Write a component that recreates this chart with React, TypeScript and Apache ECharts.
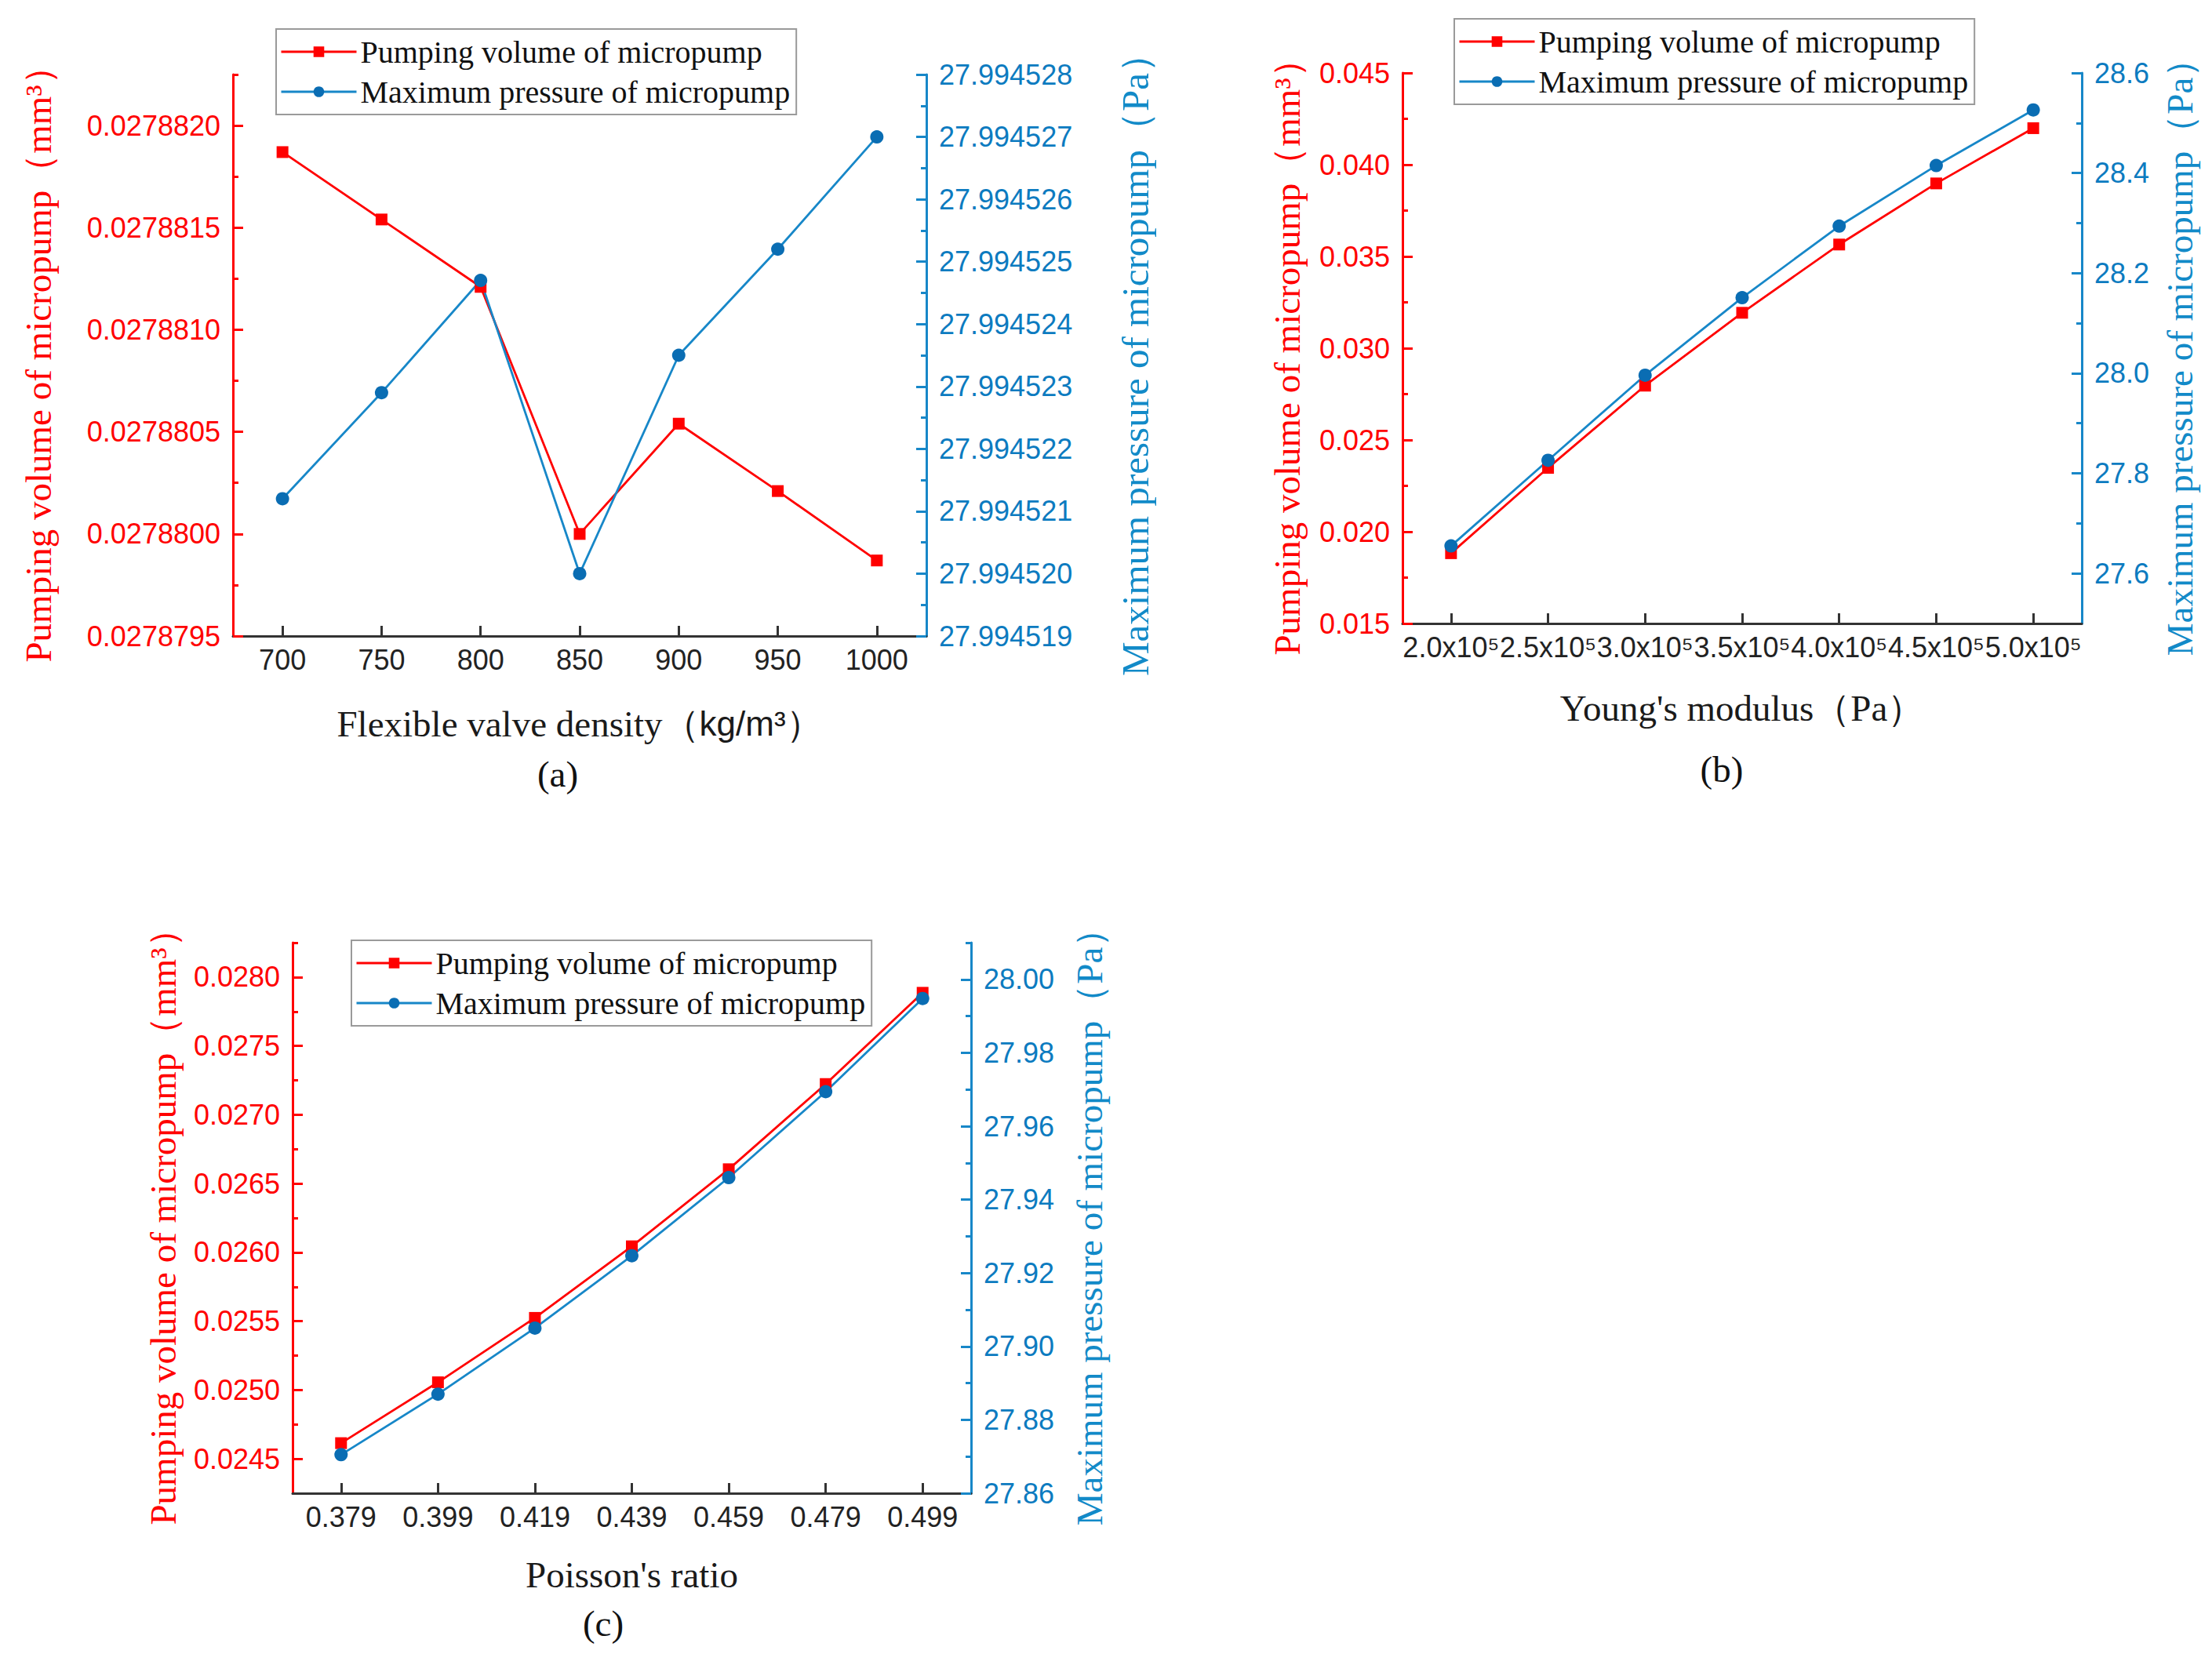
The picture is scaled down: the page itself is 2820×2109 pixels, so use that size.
import { useEffect, useRef } from "react";
import * as echarts from "echarts";

const SERIF = "'Liberation Serif', 'Times New Roman', serif";
const SANS = "'Liberation Sans', Arial, sans-serif";
const RED = "#FF0000";
const BLUE_LINE = "#1787C8";
const BLUE_MARK = "#0A6DB3";
const BLUE_TEXT = "#0C7BC0";

const NAME_VOL = "Pumping volume of micropump";
const NAME_PRES = "Maximum pressure of micropump";

// (a) flexible valve density
const densityCats = ["700", "750", "800", "850", "900", "950", "1000"];
const volumeA = [0.02788187, 0.02788154, 0.02788121, 0.0278800, 0.02788054, 0.02788021, 0.02787987];
const pressureA = [27.9945212, 27.9945229, 27.9945247, 27.99452, 27.9945235, 27.9945252, 27.994527];
const volTicksA = [0.0278795, 0.02788, 0.0278805, 0.027881, 0.0278815, 0.027882];
const volMinorA = [0.02787975, 0.02788025, 0.02788075, 0.02788125, 0.02788175, 0.02788225];
const presTicksA = [27.994519, 27.99452, 27.994521, 27.994522, 27.994523, 27.994524, 27.994525, 27.994526, 27.994527, 27.994528];
const presMinorA = [27.9945195, 27.9945205, 27.9945215, 27.9945225, 27.9945235, 27.9945245, 27.9945255, 27.9945265, 27.9945275];

// (b) Young's modulus
const modulusCats = ["2.0x10⁵", "2.5x10⁵", "3.0x10⁵", "3.5x10⁵", "4.0x10⁵", "4.5x10⁵", "5.0x10⁵"];
const volumeB = [0.01883, 0.02348, 0.02796, 0.03193, 0.03565, 0.03898, 0.04199];
const pressureB = [27.655, 27.826, 27.996, 28.151, 28.294, 28.415, 28.526];
const volTicksB = [0.015, 0.02, 0.025, 0.03, 0.035, 0.04, 0.045];
const volMinorB = [0.0175, 0.0225, 0.0275, 0.0325, 0.0375, 0.0425];
const presTicksB = [27.6, 27.8, 28.0, 28.2, 28.4, 28.6];
const presMinorB = [27.7, 27.9, 28.1, 28.3, 28.5];

// (c) Poisson's ratio
const poissonCats = ["0.379", "0.399", "0.419", "0.439", "0.459", "0.479", "0.499"];
const volumeC = [0.024614, 0.025056, 0.025524, 0.026044, 0.026604, 0.027223, 0.027886];
const pressureC = [27.8705, 27.887, 27.905, 27.9247, 27.946, 27.9694, 27.9948];
const volTicksC = [0.0245, 0.025, 0.0255, 0.026, 0.0265, 0.027, 0.0275, 0.028];
const volMinorC = [0.02475, 0.02525, 0.02575, 0.02625, 0.02675, 0.02725, 0.02775, 0.02825];
const presTicksC = [27.86, 27.88, 27.9, 27.92, 27.94, 27.96, 27.98, 28.0];
const presMinorC = [27.87, 27.89, 27.91, 27.93, 27.95, 27.97, 27.99, 28.01];

interface YSpec {
  min: number;
  max: number;
  ticks: number[];
  minor: number[];
  digits: number;
  gap: number;
  titleSize?: number;
}

interface PanelSpec {
  grid: { left: number; top: number; width: number; height: number };
  legend: { left: number; top: number };
  cats: string[];
  vol: number[];
  pres: number[];
  left: YSpec;
  right: YSpec;
  xName: string;
  xGap: number;
  tag: string;
  tagPos: [number, number];
}

const panels: PanelSpec[] = [
  {
    grid: { left: 297, top: 95, width: 884, height: 716 },
    legend: { left: 352, top: 37 },
    cats: densityCats,
    vol: volumeA,
    pres: pressureA,
    left: { min: 0.0278795, max: 0.02788225, ticks: volTicksA, minor: volMinorA, digits: 7, gap: 225 },
    right: { min: 27.994519, max: 27.994528, ticks: presTicksA, minor: presMinorA, digits: 6, gap: 242, titleSize: 49 },
    xName: "Flexible valve density（{s|kg/m³}）",
    xGap: 88,
    tag: "(a)",
    tagPos: [711, 987],
  },
  {
    grid: { left: 1788, top: 93, width: 866, height: 702 },
    legend: { left: 1854, top: 24 },
    cats: modulusCats,
    vol: volumeB,
    pres: pressureB,
    left: { min: 0.015, max: 0.045, ticks: volTicksB, minor: volMinorB, digits: 3, gap: 124 },
    right: { min: 27.5, max: 28.6, ticks: presTicksB, minor: presMinorB, digits: 1, gap: 101 },
    xName: "Young's modulus（Pa）",
    xGap: 84,
    tag: "(b)",
    tagPos: [2195, 981],
  },
  {
    grid: { left: 373, top: 1202, width: 865, height: 702 },
    legend: { left: 448, top: 1199 },
    cats: poissonCats,
    vol: volumeC,
    pres: pressureC,
    left: { min: 0.02425, max: 0.02825, ticks: volTicksC, minor: volMinorC, digits: 4, gap: 142 },
    right: { min: 27.86, max: 28.01, ticks: presTicksC, minor: presMinorC, digits: 2, gap: 127 },
    xName: "Poisson's ratio",
    xGap: 80,
    tag: "(c)",
    tagPos: [769, 2070],
  },
];

function mainY(gridIndex: number, side: "left" | "right", spec: YSpec, name: string, color: string, titleColor: string) {
  return {
    type: "value",
    gridIndex,
    position: side,
    min: spec.min,
    max: spec.max,
    name,
    nameLocation: "middle",
    nameRotate: 90,
    nameGap: spec.gap,
    nameMoveOverlap: false,
    nameTextStyle: { color: titleColor, fontFamily: SERIF, fontSize: spec.titleSize ?? 47 },
    axisLine: { show: true, onZero: false, lineStyle: { color, width: 3 } },
    axisTick: { show: true, inside: true, length: 13, customValues: spec.ticks, lineStyle: { color, width: 3 } },
    axisLabel: {
      show: true,
      customValues: spec.ticks,
      margin: 16,
      color: side === "left" ? RED : BLUE_TEXT,
      fontFamily: SANS,
      fontSize: 36,
      formatter: (v: number) => v.toFixed(spec.digits),
    },
    splitLine: { show: false },
  };
}

// second axis on the same side, only for the short minor ticks
function minorY(gridIndex: number, side: "left" | "right", spec: YSpec, color: string) {
  return {
    type: "value",
    gridIndex,
    position: side,
    min: spec.min,
    max: spec.max,
    axisLine: { show: false },
    axisTick: { show: true, inside: true, length: 7, customValues: spec.minor, lineStyle: { color, width: 3 } },
    axisLabel: { show: false },
    splitLine: { show: false },
  };
}

export default function App() {
  const ref = useRef<HTMLDivElement>(null);

  useEffect(() => {
    document.body.style.margin = "0";
    if (!ref.current) return;
    const chart = echarts.init(ref.current, null, { renderer: "svg" });

    const grids: any[] = [];
    const xAxes: any[] = [];
    const yAxes: any[] = [];
    const legends: any[] = [];
    const series: any[] = [];
    const graphics: any[] = [];

    panels.forEach((p, i) => {
      grids.push({ ...p.grid, containLabel: false, outerBoundsMode: "none" });
      xAxes.push({
        type: "category",
        gridIndex: i,
        data: p.cats,
        boundaryGap: true,
        position: "bottom",
        name: p.xName,
        nameLocation: "middle",
        nameGap: p.xGap,
        nameMoveOverlap: false,
        nameTextStyle: {
          color: "#1a1a1a",
          fontFamily: SERIF,
          fontSize: 47,
          rich: { s: { fontFamily: SANS, fontSize: 44, color: "#1a1a1a" } },
        },
        axisLine: { show: true, onZero: false, lineStyle: { color: "#333333", width: 3 } },
        axisTick: { show: true, inside: true, alignWithLabel: true, interval: 0, length: 13, lineStyle: { color: "#333333", width: 3 } },
        axisLabel: { interval: 0, margin: 12, color: "#222222", fontFamily: SANS, fontSize: 36 },
        splitLine: { show: false },
      });
      yAxes.push(
        mainY(i, "left", p.left, NAME_VOL + "（mm³）", RED, RED),
        mainY(i, "right", p.right, NAME_PRES + "（Pa）", BLUE_LINE, "#128AC8"),
        minorY(i, "left", p.left, RED),
        minorY(i, "right", p.right, BLUE_LINE)
      );
      legends.push({
        orient: "vertical",
        left: p.legend.left,
        top: p.legend.top,
        padding: [9, 8, 9, 5],
        itemWidth: 96,
        itemHeight: 17,
        itemGap: 11,
        borderColor: "#9a9a9a",
        borderWidth: 2,
        backgroundColor: "#ffffff",
        lineStyle: { width: 3 },
        textStyle: { fontFamily: SERIF, fontSize: 40, lineHeight: 40, color: "#111111" },
        data: [NAME_VOL, NAME_PRES],
      });
      series.push(
        {
          type: "line",
          name: NAME_VOL,
          xAxisIndex: i,
          yAxisIndex: 4 * i,
          data: p.vol,
          symbol: "rect",
          symbolSize: 15,
          lineStyle: { color: RED, width: 2.8 },
          itemStyle: { color: RED },
        },
        {
          type: "line",
          name: NAME_PRES,
          xAxisIndex: i,
          yAxisIndex: 4 * i + 1,
          data: p.pres,
          symbol: "circle",
          symbolSize: 17,
          lineStyle: { color: BLUE_LINE, width: 2.8 },
          itemStyle: { color: BLUE_MARK },
        }
      );
      graphics.push({
        type: "text",
        x: p.tagPos[0],
        y: p.tagPos[1],
        style: {
          text: p.tag,
          fontFamily: SERIF,
          fontSize: 47,
          fill: "#111111",
          align: "center",
          verticalAlign: "middle",
        },
      });
    });

    chart.setOption({
      animation: false,
      backgroundColor: "#ffffff",
      grid: grids,
      xAxis: xAxes,
      yAxis: yAxes,
      legend: legends,
      series,
      graphic: graphics,
    });

    return () => chart.dispose();
  }, []);

  return <div ref={ref} style={{ width: 2820, height: 2109 }} />;
}
